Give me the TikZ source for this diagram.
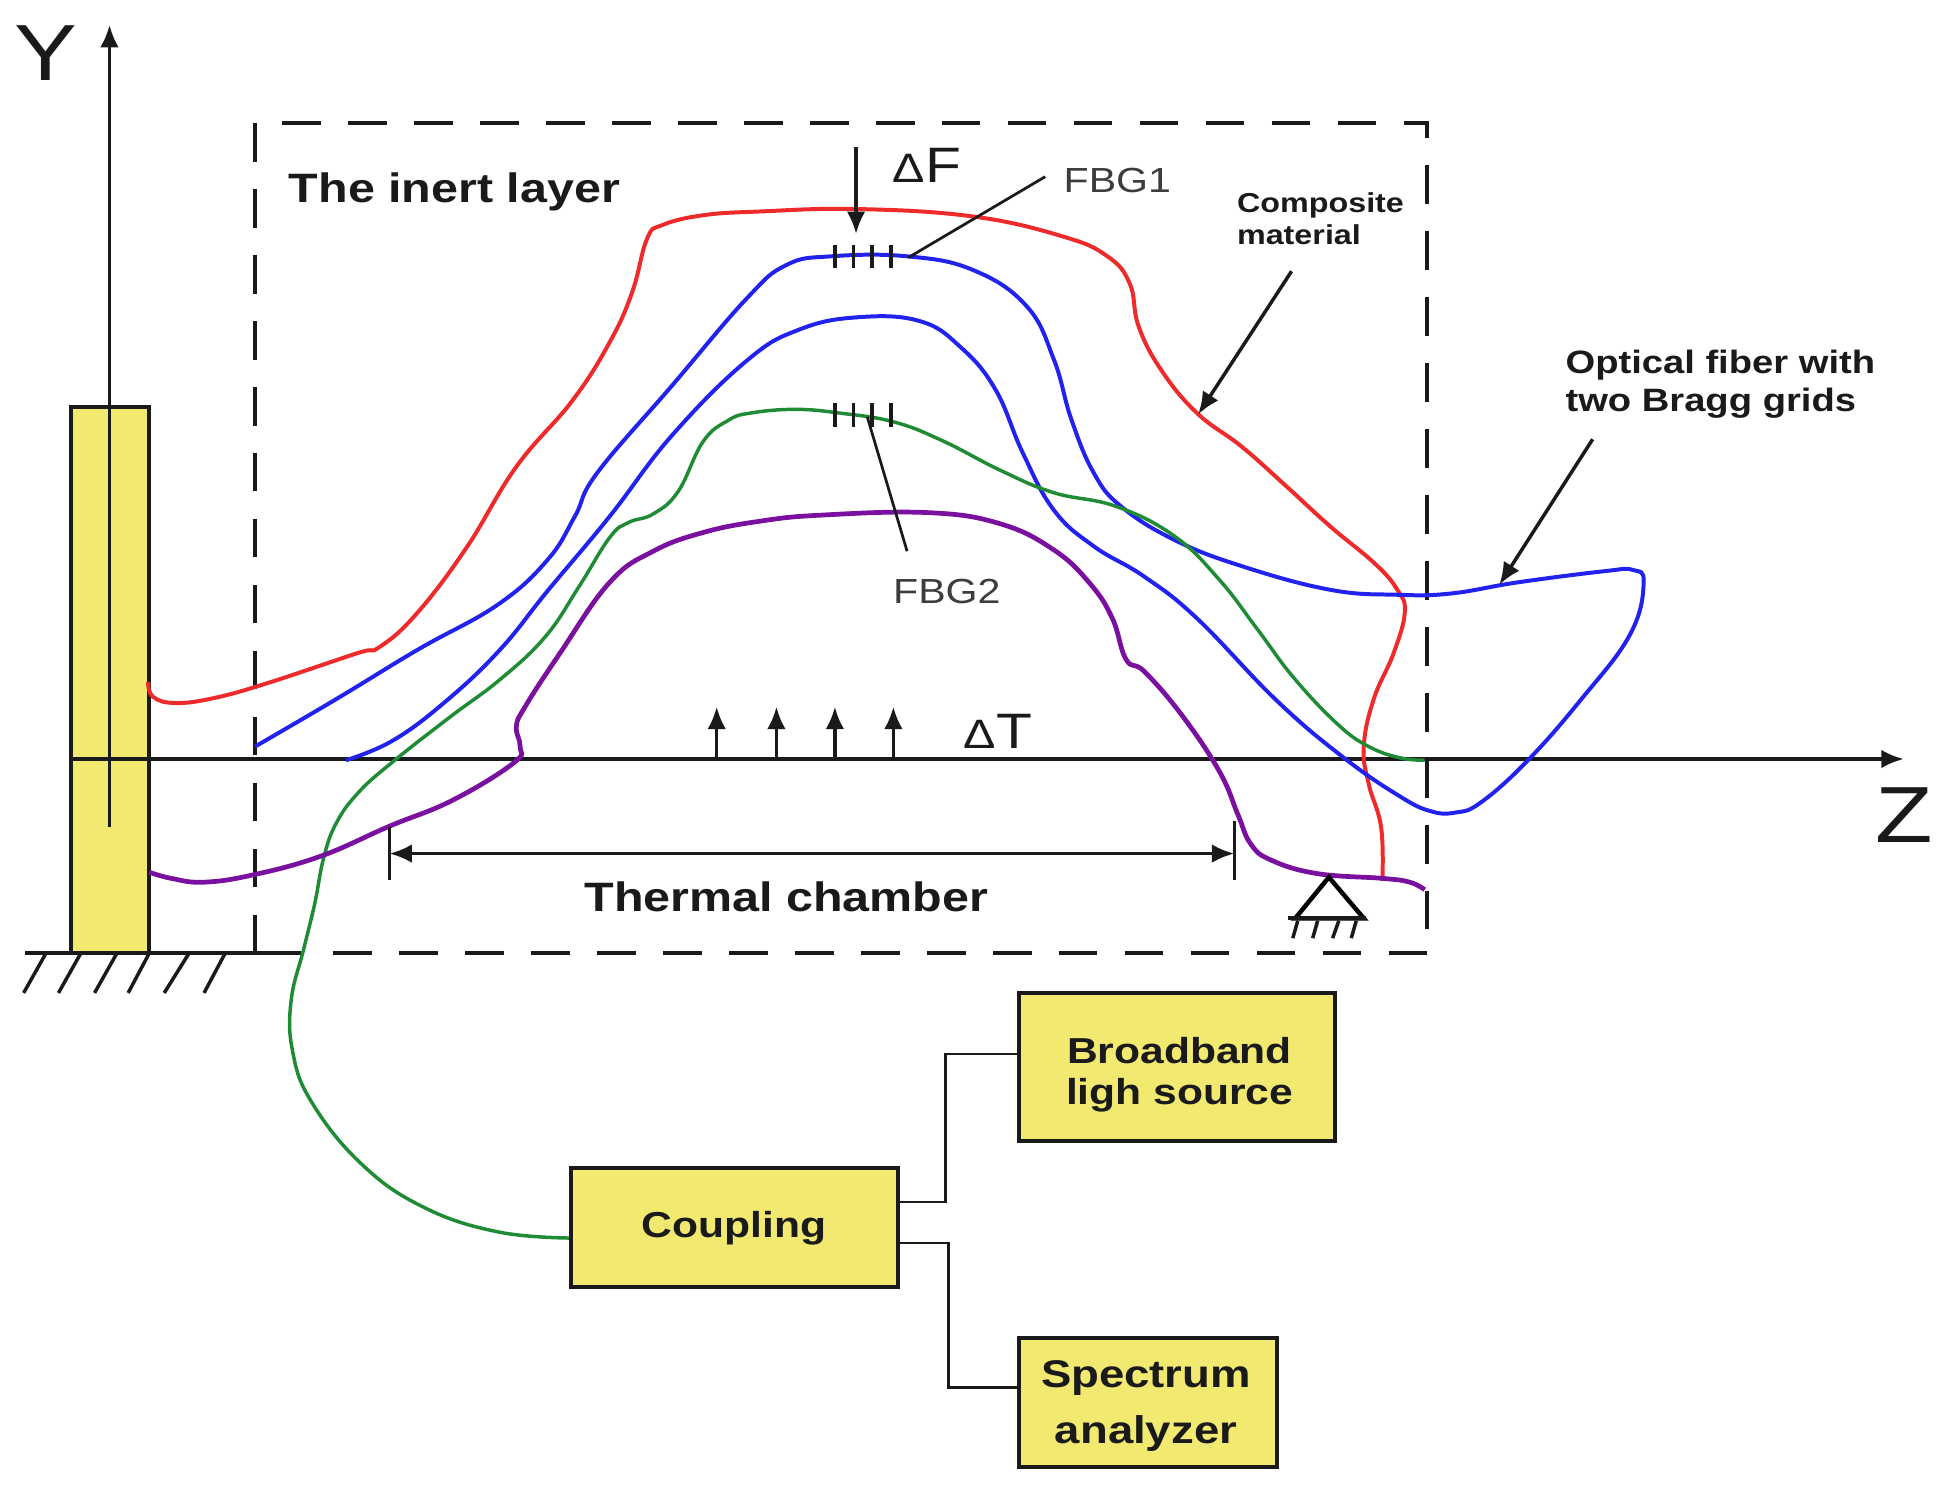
\documentclass[tikz,border=0pt]{standalone}
\usepackage{fontspec}
\setmainfont[FakeStretch=1.18]{Liberation Sans}
\usetikzlibrary{arrows.meta}
\definecolor{boxy}{HTML}{F2EA70}
\definecolor{cred}{HTML}{EE2A2A}
\definecolor{cblue}{HTML}{2222EE}
\definecolor{cgreen}{HTML}{1F8C35}
\definecolor{cpurple}{HTML}{7A10A0}
\definecolor{ink}{HTML}{1A1A1A}
\tikzset{
  blk/.style={draw=ink,line width=2.8pt},
  thin blk/.style={draw=ink,line width=2.2pt},
  arr/.style={blk,-{Latex[length=18pt,width=15pt]}},
  fiberline/.style={line width=3.2pt},
  dashbox/.style={draw=ink,line width=2.8pt,dash pattern=on 31pt off 22pt},
  ybox/.style={draw=ink,line width=3.2pt,fill=boxy,inner sep=0pt,outer sep=0pt,anchor=north west},
  lbl/.style={inner sep=0pt,text=ink,font=\fontsize{33}{40}\selectfont\bfseries},
  plain lbl/.style={inner sep=0pt,text=ink!85,font=\fontsize{28}{34}\selectfont},
  small bold/.style={inner sep=0pt,text=ink,font=\fontsize{22}{25}\selectfont\bfseries,align=left},
  mid bold/.style={inner sep=0pt,text=ink,font=\fontsize{26}{31}\selectfont\bfseries,align=left},
  box lbl/.style={inner sep=0pt,text=ink,font=\fontsize{29}{33}\selectfont\bfseries,align=center},
  axis lbl/.style={inner sep=0pt,text=ink,font=\fontsize{64}{70}\selectfont},
  delta lbl/.style={inner sep=0pt,text=ink,font=\fontsize{40}{44}\selectfont}
}
\begin{document}
\begin{tikzpicture}[x=1pt,y=-1pt]
\useasboundingbox (0,0) rectangle (1568,1193);
% post
\node[ybox,minimum width=63pt,minimum height=439pt] (post) at (57,327) {};
% dashed enclosure
\coordinate (bl) at (205,766);
\coordinate (tl) at (205,99);
\coordinate (tr) at (1147,99);
\coordinate (br) at (1147,766);
\draw[dashbox] (bl) -- (tl) -- (tr) -- (br);
\draw[dashbox] (br) -- (265,766);
\coordinate (gl) at (20,766);
\coordinate (gr) at (242,766);
\draw[blk] (gl) -- (gr);
\foreach \a/\b in {37/19,65/47,94/76,120/103,152/132,181/164}{\draw[blk] (\a,766) -- (\b,798);}
% axes
\coordinate (yb) at (88,665);
\coordinate (yt) at (88,20);
\coordinate (zb) at (57,610);
\coordinate (zt) at (1530,610);
\draw[arr] (yb) -- (yt);
\draw[arr] (zb) -- (zt);
\node[axis lbl] (Y) at (37,43) {Y};
\node[axis lbl] (Z) at (1530,655) {Z};
% fibers and layers
\draw[cred,fiberline] plot[smooth,tension=0.7] coordinates {(119,548)(123,560)(141,565)(172,561)(215,549)(287,525)(305,520)(335,493)(375,440)(415,375)(460,322)(490,275)(508,235)(520,192)(532,181)(565,173)(610,170)(689,168)(782,174)(854,190)(890,206)(908,228)(915,262)(933,297)(962,332)(998,359)(1034,391)(1069,423)(1105,453)(1123,474)(1129,492)(1120,525)(1104,562)(1096,600)(1100,630)(1110,665)(1111,708)};
\draw[cblue,fiberline] plot[smooth,tension=0.7] coordinates {(205,600)(270,562)(336,522)(400,486)(440,450)(462,415)(480,380)(540,310)(600,240)(632,213)(668,206)(729,206)(782,217)(825,246)(847,289)(861,337)(879,380)(901,407)(944,434)(998,455)(1069,474)(1123,478)(1166,477)(1220,468)(1290,459)(1312,458)(1321,468)(1310,510)(1270,563)(1227,612)(1190,645)(1170,653)(1150,652)(1125,640)(1080,609)(1026,563)(962,497)(919,463)(879,439)(847,410)(822,364)(800,313)(772,279)(739,258)(689,255)(642,265)(600,290)(540,350)(490,415)(440,475)(402,522)(359,563)(316,595)(278,611)};
\draw[cgreen,line width=2.8pt] plot[smooth,tension=0.7] coordinates {(1145,611)(1125,609)(1100,600)(1075,582)(1040,545)(1010,505)(980,466)(944,431)(897,407)(847,396)(804,378)(757,354)(718,339)(675,332)(639,329)(603,332)(585,338)(565,355)(545,395)(525,413)(505,420)(490,432)(465,472)(438,512)(402,546)(362,576)(316,612)(288,637)(270,662)(260,690)(253,726)(244,763)(234,804)(235,844)(250,885)(290,935)(340,970)(400,990)(459,995)};
\draw[cpurple,line width=3.8pt] plot[smooth,tension=0.7] coordinates {(120,701)(138,706)(164,709)(204,703)(258,688)(313,664)(364,643)(413,613)(418,600)(415,584)(422,568)(450,525)(490,468)(525,443)(565,428)(610,419)(660,414)(746,412)(804,421)(847,442)(876,469)(894,497)(905,530)(920,540)(950,575)(980,620)(995,655)(1005,678)(1021,691)(1058,702)(1112,706)(1133,709)(1145,715)};
% gratings
\foreach \x in {671,686,701,716}{\draw[blk] (\x,197) -- (\x,215); \draw[blk] (\x,324) -- (\x,343);}
% force
\coordinate (fa) at (688,118);
\coordinate (fb) at (688,188);
\draw[arr] (fa) -- (fb);
\node[delta lbl] (dF) at (745,133) {{\fontsize{33}{33}\selectfont Δ}F};
% thermal arrows
\foreach \x in {576,624,671,718}{\draw[arr] (\x,610) -- (\x,568);}
\node[delta lbl] (dT) at (802,588) {{\fontsize{33}{33}\selectfont Δ}T};
% leaders
\node[plain lbl] (fbg1) at (898,145) {FBG1};
\node[plain lbl] (fbg2) at (761,475) {FBG2};
\coordinate (l1a) at (730,207);
\coordinate (l1b) at (840,142);
\coordinate (l2a) at (697,335);
\coordinate (l2b) at (729,443);
\draw[thin blk] (l1a) -- (l1b);
\draw[thin blk] (l2a) -- (l2b);
% text
\node[lbl,anchor=west] (inert) at (232,154) {The inert layer};
\node[small bold,anchor=north west] (comp) at (994,155) {Composite\\material};
\node[mid bold,anchor=north west] (opt) at (1258,281) {Optical fiber with\\two Bragg grids};
\coordinate (ca) at (1038,218);
\coordinate (cb) at (963,333);
\coordinate (oa) at (1280,353);
\coordinate (ob) at (1205,470);
\draw[arr] (ca) -- (cb);
\draw[arr] (oa) -- (ob);
% thermal chamber
\coordinate (tca) at (313,686);
\coordinate (tcb) at (992,686);
\draw[blk] (313,665) -- (313,707);
\draw[blk] (992,660) -- (992,707);
\draw[blk,{Latex[length=18pt,width=15pt]}-{Latex[length=18pt,width=15pt]}] (tca) -- (tcb);
\node[lbl] (tc) at (632,721) {Thermal chamber};
% roller support
\coordinate (sa) at (1068,705);
\coordinate (sb) at (1041,738);
\coordinate (sc) at (1096,738);
\draw[draw=black,line width=3.6pt,line join=miter] (sa) -- (sb) -- (sc) -- cycle;
\draw[blk,line width=3pt] (1035,738) -- (1098,738);
\foreach \a/\b in {1043/1039,1059/1055,1076/1071,1090/1086}{\draw[blk] (\a,740) -- (\b,754);}
% boxes
\node[ybox,minimum width=263pt,minimum height=95pt] (coup) at (459,939) {};
\node[box lbl] (coupt) at (590,987) {Coupling};
\node[ybox,minimum width=254pt,minimum height=119pt] (bb) at (819,798) {};
\node[box lbl] (bbt) at (948,864) {Broadband\\ligh source};
\node[ybox,minimum width=207pt,minimum height=104pt] (sa2) at (819,1075) {};
\node[box lbl,font=\fontsize{31}{45}\selectfont\bfseries] (sat) at (921,1130) {Spectrum\\analyzer};
% box connectors
\coordinate (c1) at (722,966);
\coordinate (c2) at (722,999);
\coordinate (bbw) at (819,847);
\coordinate (saw) at (819,1115);
\draw[thin blk] (c1) -- (760,966) -- (760,847) -- (bbw);
\draw[thin blk] (c2) -- (762,999) -- (762,1115) -- (saw);
\end{tikzpicture}
\end{document}
